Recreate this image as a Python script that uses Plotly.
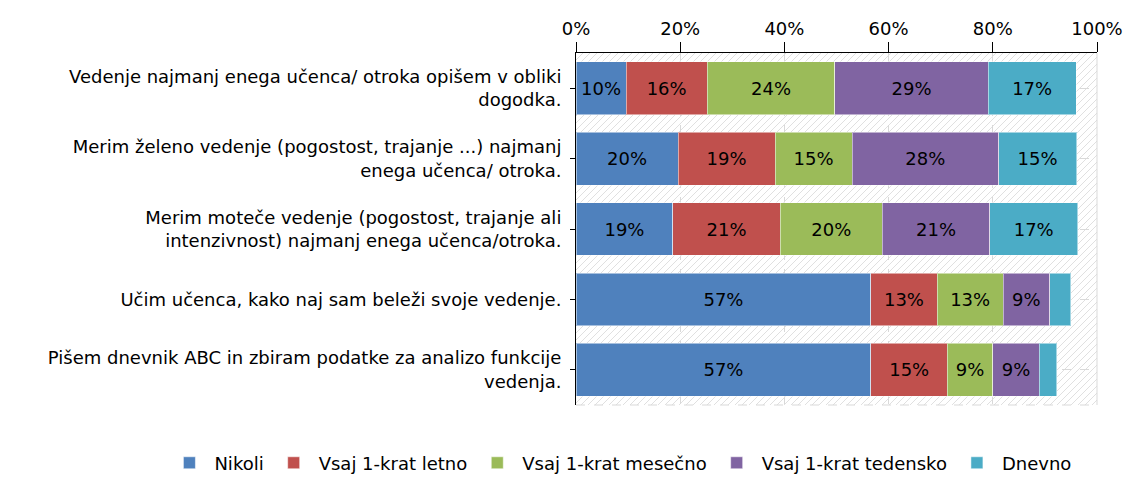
import base64
import plotly.graph_objects as go

categories = [
    "Vedenje najmanj enega učenca/ otroka opišem v obliki<br>dogodka.",
    "Merim želeno vedenje (pogostost, trajanje ...) najmanj<br>enega učenca/ otroka.",
    "Merim moteče vedenje (pogostost, trajanje ali<br>intenzivnost) najmanj enega učenca/otroka.",
    "Učim učenca, kako naj sam beleži svoje vedenje.",
    "Pišem dnevnik ABC in zbiram podatke za analizo funkcije<br>vedenja.",
]
nikoli = [9.6, 19.6, 18.6, 56.6, 56.6]
letno = [15.6, 18.6, 20.6, 12.7, 14.7]
mesecno = [24.5, 14.8, 19.6, 12.7, 8.7]
tedensko = [29.4, 28.1, 20.6, 8.9, 8.9]
dnevno = [16.9, 15.0, 16.9, 4.1, 3.4]

series_names = ["Nikoli", "Vsaj 1-krat letno", "Vsaj 1-krat mesečno", "Vsaj 1-krat tedensko", "Dnevno"]
series_values = [nikoli, letno, mesecno, tedensko, dnevno]
colors = ["#4F81BD", "#C0504D", "#9BBB59", "#8064A2", "#4BACC6"]
tick_vals = [0, 20, 40, 60, 80, 100]
tick_text = ["0%", "20%", "40%", "60%", "80%", "100%"]

FONT = "DejaVu Sans"
FS = 18
fig = go.Figure()
for name, vals, col in zip(series_names, series_values, colors):
    fig.add_trace(go.Bar(
        y=categories, x=vals, name=name, orientation="h",
        marker=dict(color=col, line=dict(color="rgba(255,255,255,0.5)", width=1)),
        text=[f"{round(v)}%" if v >= 5 else "" for v in vals],
        textposition="inside", insidetextanchor="middle", textangle=0,
        constraintext="none",
        textfont=dict(family=FONT, size=FS, color="#000000"),
        hoverinfo="skip",
    ))

# hatched background pattern
W, H = 521, 352
lines = "".join(
    f'<line x1="{i}" y1="{H}" x2="{i + H}" y2="0" stroke="#e0e0e0" stroke-width="1"/>'
    for i in range(-H, W, 7)
)
svg = f'<svg xmlns="http://www.w3.org/2000/svg" width="{W}" height="{H}">{lines}</svg>'
uri = "data:image/svg+xml;base64," + base64.b64encode(svg.encode()).decode()

fig.update_layout(
    width=1126, height=477,
    barmode="stack", bargap=0.25,
    margin=dict(l=576, r=29, t=53, b=72, autoexpand=False),
    paper_bgcolor="white", plot_bgcolor="rgba(0,0,0,0)",
    font=dict(family=FONT, size=FS, color="#000000"),
    images=[dict(source=uri, xref="paper", yref="paper", x=0, y=1, sizex=1, sizey=1,
                 sizing="stretch", layer="below")],
    xaxis=dict(side="top", range=[0, 100], tickvals=tick_vals, ticktext=tick_text,
               showline=True, linecolor="#000000", linewidth=1,
               ticks="outside", ticklen=10, tickcolor="#000000",
               showgrid=True, gridcolor="#d9d9d9", griddash="dash", zeroline=False,
               automargin=False, tickfont=dict(family=FONT, size=FS)),
    yaxis=dict(autorange="reversed", showline=True, linecolor="#000000", linewidth=1,
               ticks="outside", ticklen=5, tickcolor="#000000",
               showgrid=True, gridcolor="#d9d9d9", griddash="dash",
               automargin=False, ticklabelstandoff=5,
               tickfont=dict(family=FONT, size=FS)),
    legend=dict(orientation="h", xref="paper", yref="paper",
                x=-0.79, xanchor="left", y=-0.165, yanchor="middle",
                itemwidth=40,
                font=dict(family=FONT, size=FS), traceorder="normal"),
    showlegend=True,
    shapes=[
        dict(type="line", xref="paper", yref="paper", x0=1, x1=1, y0=0, y1=1,
             line=dict(color="#d9d9d9", width=1)),
        dict(type="line", xref="paper", yref="paper", x0=0, x1=1, y0=0, y1=0,
             line=dict(color="#d9d9d9", width=1, dash="dash")),
    ],
)

fig.write_html("out.html", config={"displayModeBar": False},
               post_script="document.body.style.margin='0';")
